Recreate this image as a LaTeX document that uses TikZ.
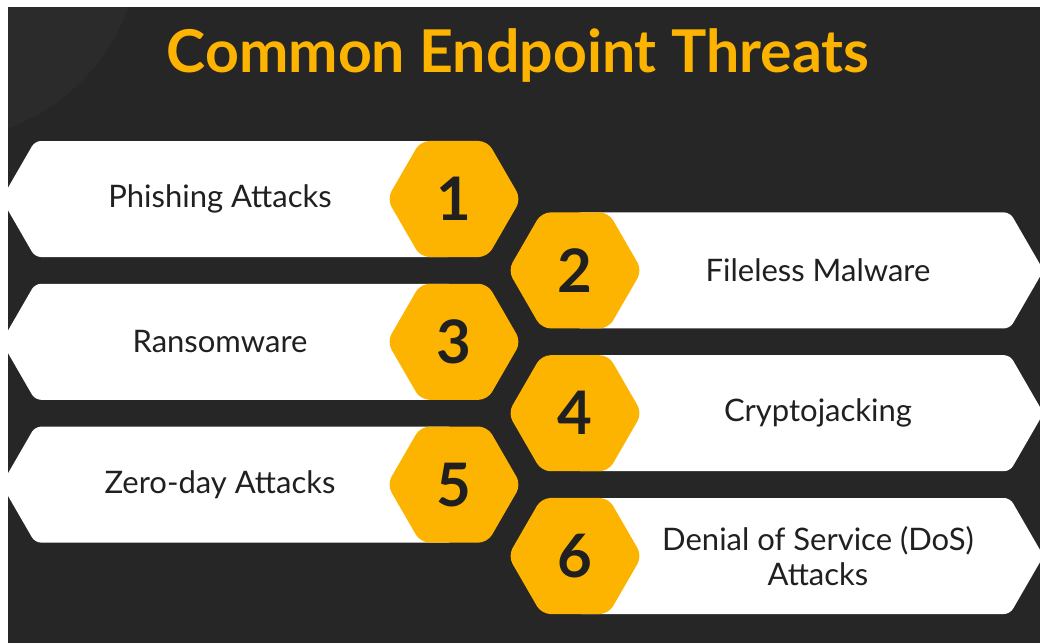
\documentclass[tikz,border=0pt]{standalone}
\usepackage{fontspec}
\setmainfont{Lato}
\usetikzlibrary{shapes.geometric}

\definecolor{bgdark}{HTML}{262626}
\definecolor{bgglow}{HTML}{2B2B2B}
\definecolor{threatgold}{HTML}{FDB400}
\definecolor{inkdark}{HTML}{202020}

\begin{document}
\begin{tikzpicture}[x=1pt, y=-1pt,
    band/.style={fill=white, rounded corners=6pt},
    hexbadge/.style={regular polygon, regular polygon sides=6, minimum size=134pt,
        inner sep=0pt, fill=threatgold, rounded corners=9pt, text=inkdark,
        font=\fontsize{60}{60}\selectfont\bfseries},
    threatlabel/.style={text=inkdark, font=\fontsize{31}{35}\selectfont, align=center}]

    % Page and dark backdrop
    \useasboundingbox (0,0) rectangle (1040,643);
    \fill[white] (0,0) rectangle (1040,643);
    \begin{scope}
        \clip (8,7) rectangle (1040,643);
        \fill[bgdark] (8,7) rectangle (1040,643);
        \fill[bgglow] (-60,-60) circle (200);

        % Title
        \node[anchor=base, text=threatgold, font=\fontsize{59}{70}\selectfont\bfseries] (title) at (518,72) {Common Endpoint Threats};

        % Left rows: bands pointing left, badge on the right end
        \foreach \i/\txt in {1/Phishing Attacks, 3/Ransomware, 5/Zero-day Attacks} {
            \pgfmathsetmacro\rowy{199+(\i-1)*71.4}
            \fill[band] (454,\rowy-58) -- (35,\rowy-58) -- (1.5,\rowy) -- (35,\rowy+58) -- (454,\rowy+58) -- cycle;
            \node[threatlabel] (lbl\i) at (220,\rowy) {\txt};
            \node[hexbadge] (hex\i) at (454,\rowy) {\i};
        }

        % Right rows: bands pointing right, badge on the left end
        \foreach \i/\txt in {2/Fileless Malware, 4/Cryptojacking, 6/{Denial of Service (DoS)\\Attacks}} {
            \pgfmathsetmacro\rowy{199+(\i-1)*71.4}
            \fill[band] (575,\rowy-58) -- (1010,\rowy-58) -- (1043.5,\rowy) -- (1010,\rowy+58) -- (575,\rowy+58) -- cycle;
            \node[threatlabel] (lbl\i) at (818,\rowy) {\txt};
            \node[hexbadge] (hex\i) at (575,\rowy) {\i};
        }
    \end{scope}
\end{tikzpicture}
\end{document}
